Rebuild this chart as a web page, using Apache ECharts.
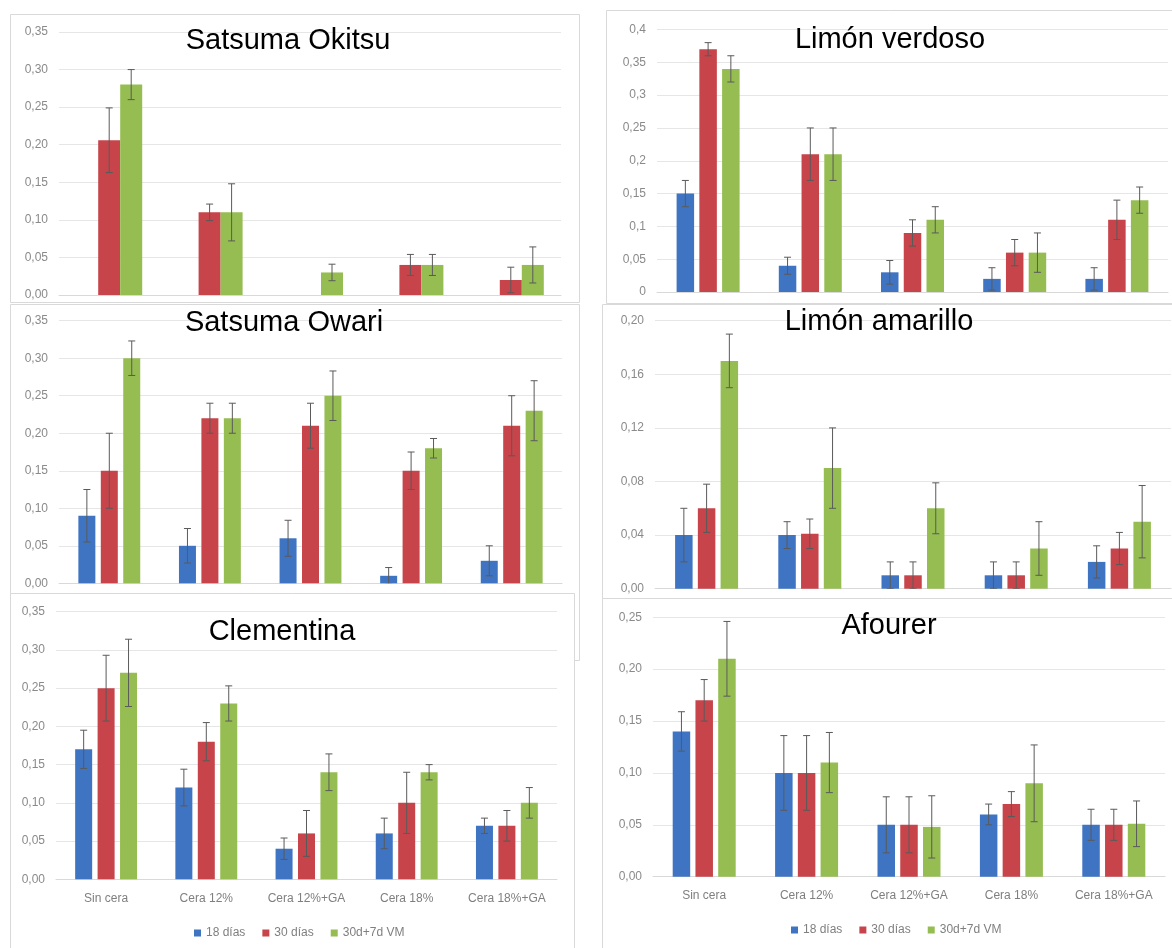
<!DOCTYPE html>
<html>
<head>
<meta charset="utf-8">
<script src="https://cdn.jsdelivr.net/npm/echarts@6/dist/echarts.min.js"></script>
<style>
  html, body { margin: 0; background: #fff; }
  #main { width: 1172px; height: 948px; }
</style>
</head>
<body>
<div id="main"></div>
<script>
  // categorias y series
  var categories = ['Sin cera', 'Cera 12%', 'Cera 12%+GA', 'Cera 18%', 'Cera 18%+GA'];
  var seriesNames = ['18 días', '30 días', '30d+7d VM'];

  // Satsuma Okitsu (sin datos de 18 días)
  var okitsuMean = [
    [null, null, null, null, null],
    [0.206, 0.11, null, 0.04, 0.02],
    [0.28, 0.11, 0.03, 0.04, 0.04]
  ];
  var okitsuErr = [
    [null, null, null, null, null],
    [0.043, 0.011, null, 0.014, 0.017],
    [0.02, 0.038, 0.011, 0.014, 0.024]
  ];

  // Limón verdoso
  var verdosoMean = [
    [0.15, 0.04, 0.03, 0.02, 0.02],
    [0.37, 0.21, 0.09, 0.06, 0.11],
    [0.34, 0.21, 0.11, 0.06, 0.14]
  ];
  var verdosoErr = [
    [0.02, 0.013, 0.018, 0.017, 0.017],
    [0.01, 0.04, 0.02, 0.02, 0.03],
    [0.02, 0.04, 0.02, 0.03, 0.02]
  ];

  // Satsuma Owari
  var owariMean = [
    [0.09, 0.05, 0.06, 0.01, 0.03],
    [0.15, 0.22, 0.21, 0.15, 0.21],
    [0.30, 0.22, 0.25, 0.18, 0.23]
  ];
  var owariErr = [
    [0.035, 0.023, 0.024, 0.011, 0.02],
    [0.05, 0.02, 0.03, 0.025, 0.04],
    [0.023, 0.02, 0.033, 0.013, 0.04]
  ];

  // Limón amarillo
  var amarilloMean = [
    [0.04, 0.04, 0.01, 0.01, 0.02],
    [0.06, 0.041, 0.01, 0.01, 0.03],
    [0.17, 0.09, 0.06, 0.03, 0.05]
  ];
  var amarilloErr = [
    [0.02, 0.01, 0.01, 0.01, 0.012],
    [0.018, 0.011, 0.01, 0.01, 0.012],
    [0.02, 0.03, 0.019, 0.02, 0.027]
  ];

  // Clementina
  var clementinaMean = [
    [0.17, 0.12, 0.04, 0.06, 0.07],
    [0.25, 0.18, 0.06, 0.10, 0.07],
    [0.27, 0.23, 0.14, 0.14, 0.10]
  ];
  var clementinaErr = [
    [0.025, 0.024, 0.014, 0.02, 0.01],
    [0.043, 0.025, 0.03, 0.04, 0.02],
    [0.044, 0.023, 0.024, 0.01, 0.02]
  ];

  // Afourer
  var afourerMean = [
    [0.14, 0.10, 0.05, 0.06, 0.05],
    [0.17, 0.10, 0.05, 0.07, 0.05],
    [0.21, 0.11, 0.048, 0.09, 0.051]
  ];
  var afourerErr = [
    [0.019, 0.036, 0.027, 0.01, 0.015],
    [0.02, 0.036, 0.027, 0.012, 0.015],
    [0.036, 0.029, 0.03, 0.037, 0.022]
  ];

  // ejes Y: maximo e intervalo
  var okitsuAxis = [0.35, 0.05];
  var verdosoAxis = [0.4, 0.05];
  var owariAxis = [0.35, 0.05];
  var amarilloAxis = [0.20, 0.04];
  var clementinaAxis = [0.35, 0.05];
  var afourerAxis = [0.25, 0.05];

  var colors = ['#3F74C2', '#C6444A', '#96BD52'];

  function fixed2(v) { return v.toFixed(2).replace('.', ','); }
  function trimmed(v) { return String(parseFloat(v.toFixed(2))).replace('.', ','); }

  var panels = [
    { title: 'Satsuma Okitsu', mean: okitsuMean, err: okitsuErr, axis: okitsuAxis, fmt: fixed2,
      grid: { left: 59, top: 32, width: 502, height: 263 }, tx: 288, ty: 41, bw: 22, gap: 0, labels: false },
    { title: 'Limón verdoso', mean: verdosoMean, err: verdosoErr, axis: verdosoAxis, fmt: trimmed,
      grid: { left: 657, top: 29.5, width: 511, height: 262.5 }, tx: 890, ty: 40, bw: 17.5, gap: 0.3, labels: false },
    { title: 'Satsuma Owari', mean: owariMean, err: owariErr, axis: owariAxis, fmt: fixed2,
      grid: { left: 59, top: 320.7, width: 503, height: 262.6 }, tx: 284, ty: 323, bw: 17, gap: 0.32, labels: false },
    { title: 'Limón amarillo', mean: amarilloMean, err: amarilloErr, axis: amarilloAxis, fmt: fixed2,
      grid: { left: 655, top: 320.7, width: 516, height: 268 }, tx: 879, ty: 322, bw: 17.5, gap: 0.3, labels: false },
    { title: 'Clementina', mean: clementinaMean, err: clementinaErr, axis: clementinaAxis, fmt: fixed2,
      grid: { left: 56, top: 611.7, width: 501, height: 267.6 }, tx: 282, ty: 632, bw: 17, gap: 0.32, labels: true },
    { title: 'Afourer', mean: afourerMean, err: afourerErr, axis: afourerAxis, fmt: fixed2,
      grid: { left: 653, top: 617.3, width: 512, height: 259.4 }, tx: 889, ty: 626, bw: 17.5, gap: 0.3, labels: true }
  ];

  function errorRender(offset) {
    return function (params, api) {
      var cat = api.value(0), m = api.value(1), e = api.value(2);
      var hi = api.coord([cat, m + e]);
      var lo = api.coord([cat, m - e]);
      var x = hi[0] + offset;
      var st = { stroke: '#5a5a5a', lineWidth: 1 };
      return {
        type: 'group',
        children: [
          { type: 'line', shape: { x1: x, y1: hi[1], x2: x, y2: lo[1] }, style: st },
          { type: 'line', shape: { x1: x - 3.5, y1: hi[1], x2: x + 3.5, y2: hi[1] }, style: st },
          { type: 'line', shape: { x1: x - 3.5, y1: lo[1], x2: x + 3.5, y2: lo[1] }, style: st }
        ]
      };
    };
  }

  var grids = [], xAxes = [], yAxes = [], series = [];
  var graphics = [
    // marcos de cada grafico
    { type: 'rect', z: 0, shape: { x: 10.5, y: 14.5, width: 569, height: 288 }, style: { fill: '#fff', stroke: '#d9d9d9' } },
    { type: 'rect', z: 0, shape: { x: 606.5, y: 10.5, width: 600, height: 293 }, style: { fill: '#fff', stroke: '#d9d9d9' } },
    { type: 'rect', z: 0, shape: { x: 10.5, y: 304.5, width: 569, height: 356 }, style: { fill: '#fff', stroke: '#d9d9d9' } },
    { type: 'rect', z: 0, shape: { x: 602.5, y: 304.5, width: 600, height: 320 }, style: { fill: '#fff', stroke: '#d9d9d9' } },
    { type: 'rect', z: 0, shape: { x: 10.5, y: 593.5, width: 564, height: 380 }, style: { fill: '#fff', stroke: '#d9d9d9' } },
    { type: 'rect', z: 0, shape: { x: 602.5, y: 598.5, width: 600, height: 380 }, style: { fill: '#fff', stroke: '#d9d9d9' } }
  ];

  panels.forEach(function (p, k) {
    grids.push(p.grid);
    xAxes.push({
      type: 'category', gridIndex: k, data: categories,
      axisLine: { lineStyle: { color: '#d9d9d9' } },
      axisTick: { show: false },
      axisLabel: { show: p.labels, color: '#7f7f7f', fontSize: 12, margin: 13, interval: 0, fontFamily: 'Liberation Sans' }
    });
    yAxes.push({
      type: 'value', gridIndex: k, min: 0, max: p.axis[0], interval: p.axis[1],
      axisLine: { show: false }, axisTick: { show: false },
      splitLine: { lineStyle: { color: '#e6e6e6' } },
      axisLabel: { color: '#8a8a8a', fontSize: 12, margin: 11, fontFamily: 'Liberation Sans', formatter: p.fmt }
    });
    graphics.push({
      type: 'text', z: 10, x: p.tx, y: p.ty,
      style: { text: p.title, font: '29px "Liberation Sans", Arial, sans-serif', fill: '#000', textAlign: 'center', textVerticalAlign: 'middle' }
    });
    var step = p.bw * (1 + p.gap);
    for (var j = 0; j < 3; j++) {
      series.push({
        name: seriesNames[j], type: 'bar', xAxisIndex: k, yAxisIndex: k,
        data: p.mean[j], barWidth: p.bw, barGap: (p.gap * 100) + '%',
        itemStyle: { color: colors[j] }
      });
      var ed = [];
      for (var i = 0; i < categories.length; i++) {
        if (p.mean[j][i] != null) ed.push([i, p.mean[j][i], p.err[j][i]]);
      }
      series.push({
        type: 'custom', xAxisIndex: k, yAxisIndex: k, z: 4, clip: true,
        renderItem: errorRender((j - 1) * step),
        encode: { x: 0, y: 1 }, data: ed, silent: true
      });
    }
  });

  var legendBase = {
    data: seriesNames, icon: 'rect', itemWidth: 7, itemHeight: 7, itemGap: 17,
    textStyle: { color: '#7f7f7f', fontSize: 12, fontFamily: 'Liberation Sans' }, selectedMode: false
  };

  var myChart = echarts.init(document.getElementById('main'));
  myChart.setOption({
    animation: false,
    color: colors,
    graphic: graphics,
    grid: grids,
    xAxis: xAxes,
    yAxis: yAxes,
    legend: [
      Object.assign({ left: 189, top: 922 }, legendBase),
      Object.assign({ left: 786, top: 919 }, legendBase)
    ],
    series: series
  });
</script>
</body>
</html>
